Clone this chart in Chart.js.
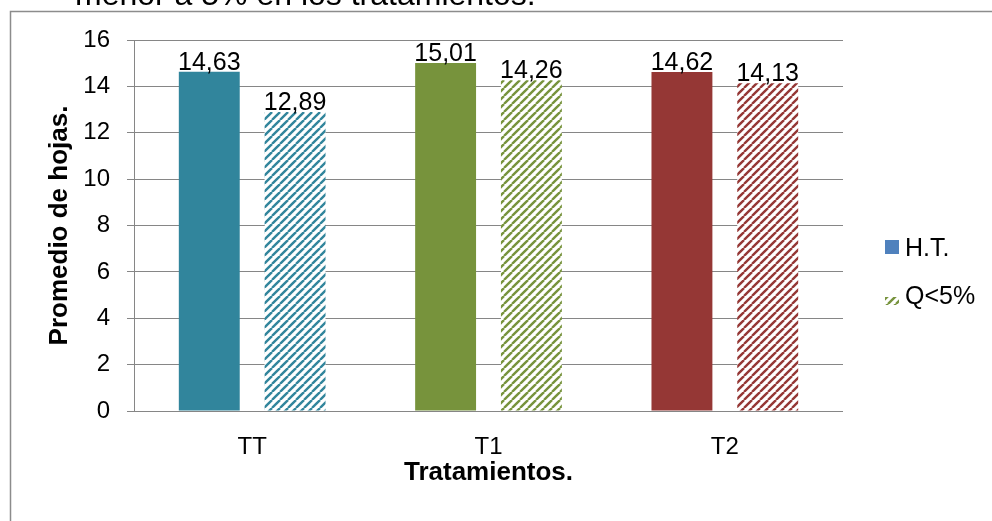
<!DOCTYPE html>
<html>
<head>
<meta charset="utf-8">
<script src="https://cdn.jsdelivr.net/npm/chart.js@4"></script>
<style>
  html, body { margin: 0; padding: 0; background: #fff; }
  #wrap { width: 992px; height: 521px; }
</style>
</head>
<body>
<div id="wrap"><canvas id="hojasChart" width="992" height="521"></canvas></div>
<script>
// --- datos ---
const tratamientos = ['TT', 'T1', 'T2'];
const valoresHT = [14.63, 15.01, 14.62];
const valoresQ = [12.89, 14.26, 14.13];
const serieNombres = ['H.T.', 'Q<5%'];
const ticksY = [0, 2, 4, 6, 8, 10, 12, 14, 16];

const coloresBarras = ['#31859C', '#77933C', '#953735'];
const FONT = "'Liberation Sans', Arial, sans-serif";

// patrón de rayas diagonales para la serie Q<5%
function rayado(color) {
    const p = 8;
    const c = document.createElement('canvas');
    c.width = p; c.height = p;
    const g = c.getContext('2d');
    g.fillStyle = '#fff';
    g.fillRect(0, 0, p, p);
    g.strokeStyle = color;
    g.lineWidth = 2.4;
    for (let k = -1; k <= 1; k++) {
        g.beginPath();
        g.moveTo(k * p, p);
        g.lineTo(k * p + p, 0);
        g.stroke();
    }
    return g.createPattern(c, 'repeat');
}
const patrones = coloresBarras.map(rayado);

// marco, texto superior y leyenda
const decoracion = {
    id: 'decoracion',
    beforeDraw(chart) {
        const ctx = chart.ctx;
        ctx.save();
        ctx.fillStyle = '#fff';
        ctx.fillRect(0, 0, chart.width, chart.height);
        ctx.fillStyle = '#000';
        ctx.font = '32px ' + FONT;
        ctx.textBaseline = 'alphabetic';
        ctx.fillText('menor a 5% en los tratamientos.', 75, 5);
        ctx.strokeStyle = '#8c8c8c';
        ctx.lineWidth = 1.5;
        ctx.beginPath();
        ctx.moveTo(10.5, chart.height);
        ctx.lineTo(10.5, 11.5);
        ctx.lineTo(chart.width, 11.5);
        ctx.stroke();
        ctx.restore();
    },
    afterDraw(chart) {
        const ctx = chart.ctx;
        ctx.save();
        ctx.font = '25px ' + FONT;
        ctx.textBaseline = 'alphabetic';
        // H.T.
        ctx.fillStyle = '#4F81BD';
        ctx.fillRect(885, 240, 14, 14);
        ctx.fillStyle = '#000';
        ctx.fillText(serieNombres[0], 905, 256);
        // Q<5%
        ctx.fillStyle = rayado('#77933C');
        ctx.fillRect(885, 297, 14, 8);
        ctx.fillStyle = '#000';
        ctx.fillText(serieNombres[1], 905, 304);
        ctx.restore();
    }
};

// etiquetas de valor sobre cada barra
const etiquetas = {
    id: 'etiquetas',
    afterDatasetsDraw(chart) {
        const ctx = chart.ctx;
        ctx.save();
        ctx.font = '25px ' + FONT;
        ctx.fillStyle = '#000';
        ctx.textAlign = 'center';
        ctx.textBaseline = 'alphabetic';
        chart.data.datasets.forEach((ds, i) => {
            chart.getDatasetMeta(i).data.forEach((bar, j) => {
                ctx.fillText(ds.data[j].toFixed(2).replace('.', ','), bar.x, bar.y - 2);
            });
        });
        ctx.restore();
    }
};

const ctx = document.getElementById('hojasChart').getContext('2d');
const hojasChart = new Chart(ctx, {
    type: 'bar',
    data: {
        labels: tratamientos,
        datasets: [{
            label: serieNombres[0],
            data: valoresHT,
            backgroundColor: coloresBarras,
            borderWidth: 0
        }, {
            label: serieNombres[1],
            data: valoresQ,
            backgroundColor: patrones,
            borderWidth: 0
        }]
    },
    options: {
        responsive: false,
        animation: false,
        devicePixelRatio: 1,
        categoryPercentage: 0.726,
        barPercentage: 0.71,
        layout: { padding: { left: 0, right: 149, top: 40, bottom: 0 } },
        scales: {
            x: {
                grid: { display: false },
                border: { display: false },
                ticks: { color: '#000', font: { family: FONT, size: 24 }, padding: 14 },
                title: {
                    display: true,
                    text: 'Tratamientos.',
                    color: '#000',
                    font: { family: FONT, size: 26, weight: 'bold' },
                    padding: { top: 0, bottom: 33 }
                },
                afterFit: scale => { scale.height = 110; }
            },
            y: {
                min: 0,
                max: 16,
                afterBuildTicks: scale => { scale.ticks = ticksY.map(v => ({ value: v })); },
                grid: { color: '#868686', lineWidth: 1, tickLength: 7, tickColor: '#868686' },
                border: { display: true, color: '#868686', width: 1 },
                ticks: { color: '#000', font: { family: FONT, size: 24 }, padding: 17 },
                title: {
                    display: true,
                    text: 'Promedio de hojas.',
                    color: '#000',
                    font: { family: FONT, size: 26, weight: 'bold' },
                    padding: { top: 44, bottom: 0 }
                },
                afterFit: scale => { scale.width = 134; }
            }
        },
        plugins: {
            legend: { display: false },
            tooltip: { enabled: false }
        }
    },
    plugins: [decoracion, etiquetas]
});
</script>
</body>
</html>
